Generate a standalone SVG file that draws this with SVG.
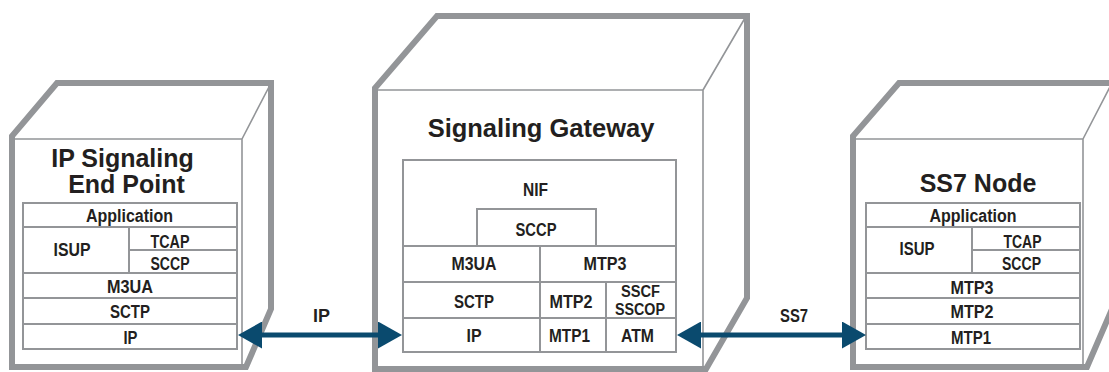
<svg xmlns="http://www.w3.org/2000/svg" width="1109" height="372" viewBox="0 0 1109 372">
<style>
.bg{fill:#ffffff}
.sil{fill:#ffffff;stroke:#939598;stroke-width:6;stroke-linejoin:miter}
.thin{fill:none;stroke:#939598;stroke-width:1.6}
.cell{fill:#ffffff;stroke:#939598;stroke-width:2}
.title{font-family:"Liberation Sans",Arial,sans-serif;font-weight:bold;font-size:25px;fill:#231f20;text-anchor:middle}
.lbl{font-family:"Liberation Sans",Arial,sans-serif;font-weight:bold;font-size:18px;fill:#231f20;text-anchor:middle}
.sm{font-size:16px}
.conn{stroke:#0a4a6e;stroke-width:5;fill:none}
</style>
<defs>
<marker id="ah" viewBox="0 0 24 27" refX="0" refY="13.5" markerWidth="24" markerHeight="27" markerUnits="userSpaceOnUse" orient="auto-start-reverse">
<path d="M0,0 L24,13.5 L0,27 Z" fill="#0a4a6e"/>
</marker>
</defs>
<rect class="bg" x="0" y="0" width="1109" height="372"/>

<g id="ip-endpoint">
<path class="sil" d="M12,367 L12,136 L57,83 L271,83 L271,309 L246,367 Z"/>
<path class="thin" d="M12,139 L242,139 L242,366 M242,139 L270,85"/>
<text class="title" x="122.5" y="167">IP Signaling</text>
<text class="title" x="126.5" y="193">End Point</text>
<rect class="cell" x="23" y="203" width="214" height="24"/>
<rect class="cell" x="23" y="227" width="106" height="46"/>
<rect class="cell" x="129" y="227" width="108" height="23"/>
<rect class="cell" x="129" y="250" width="108" height="23"/>
<rect class="cell" x="23" y="273" width="214" height="25"/>
<rect class="cell" x="23" y="298" width="214" height="26"/>
<rect class="cell" x="23" y="324" width="214" height="25"/>
<text class="lbl" x="129.5" y="222" textLength="87" lengthAdjust="spacingAndGlyphs">Application</text>
<text class="lbl" x="72" y="255.5" textLength="37" lengthAdjust="spacingAndGlyphs">ISUP</text>
<text class="lbl" x="170" y="247.5" textLength="39" lengthAdjust="spacingAndGlyphs">TCAP</text>
<text class="lbl" x="170" y="269.5" textLength="39" lengthAdjust="spacingAndGlyphs">SCCP</text>
<text class="lbl" x="130" y="293" textLength="46" lengthAdjust="spacingAndGlyphs">M3UA</text>
<text class="lbl" x="130" y="318" textLength="40" lengthAdjust="spacingAndGlyphs">SCTP</text>
<text class="lbl" x="130.5" y="343.5" textLength="14" lengthAdjust="spacingAndGlyphs">IP</text>
</g>

<g id="signaling-gateway">
<path class="sil" d="M375,369 L375,88 L437,16 L747,16 L747,298 L706,369 Z"/>
<path class="thin" d="M375,90 L703,90 L703,368 M703,90 L745,18"/>
<text class="title" x="541" y="137" style="font-size:25.5px">Signaling Gateway</text>
<rect class="cell" x="403" y="160" width="273" height="86"/>
<rect class="cell" x="477" y="209" width="119" height="37"/>
<rect class="cell" x="403" y="246" width="137" height="36"/>
<rect class="cell" x="540" y="246" width="136" height="36"/>
<rect class="cell" x="403" y="282" width="137" height="36"/>
<rect class="cell" x="540" y="282" width="66" height="36"/>
<rect class="cell" x="606" y="282" width="70" height="36"/>
<rect class="cell" x="403" y="318" width="137" height="34"/>
<rect class="cell" x="540" y="318" width="66" height="34"/>
<rect class="cell" x="606" y="318" width="70" height="34"/>
<text class="lbl" x="535.5" y="195.5" textLength="25" lengthAdjust="spacingAndGlyphs">NIF</text>
<text class="lbl" x="536" y="235.5" textLength="41" lengthAdjust="spacingAndGlyphs">SCCP</text>
<text class="lbl" x="474" y="270" textLength="45" lengthAdjust="spacingAndGlyphs">M3UA</text>
<text class="lbl" x="605" y="270" textLength="43" lengthAdjust="spacingAndGlyphs">MTP3</text>
<text class="lbl" x="474" y="308" textLength="40" lengthAdjust="spacingAndGlyphs">SCTP</text>
<text class="lbl" x="571" y="308" textLength="43" lengthAdjust="spacingAndGlyphs">MTP2</text>
<text class="lbl sm" x="640.5" y="296.5" textLength="39" lengthAdjust="spacingAndGlyphs">SSCF</text>
<text class="lbl sm" x="640" y="314.5" textLength="50" lengthAdjust="spacingAndGlyphs">SSCOP</text>
<text class="lbl" x="474" y="342" textLength="15" lengthAdjust="spacingAndGlyphs">IP</text>
<text class="lbl" x="569.5" y="342" textLength="41" lengthAdjust="spacingAndGlyphs">MTP1</text>
<text class="lbl" x="637.5" y="342" textLength="33" lengthAdjust="spacingAndGlyphs">ATM</text>
</g>

<g id="ss7-node">
<path class="sil" d="M853,367 L853,136 L899,83 L1112,83 L1112,309 L1087,367 Z"/>
<path class="thin" d="M853,139 L1083,139 L1083,366 M1083,139 L1111,85"/>
<text class="title" x="978" y="192">SS7 Node</text>
<rect class="cell" x="866" y="203" width="214" height="24"/>
<rect class="cell" x="866" y="227" width="106" height="46"/>
<rect class="cell" x="972" y="227" width="108" height="23"/>
<rect class="cell" x="972" y="250" width="108" height="23"/>
<rect class="cell" x="866" y="273" width="214" height="25"/>
<rect class="cell" x="866" y="298" width="214" height="26"/>
<rect class="cell" x="866" y="324" width="214" height="25"/>
<text class="lbl" x="973" y="222" textLength="87" lengthAdjust="spacingAndGlyphs">Application</text>
<text class="lbl" x="917" y="254.5" textLength="35" lengthAdjust="spacingAndGlyphs">ISUP</text>
<text class="lbl" x="1022.5" y="247.5" textLength="38" lengthAdjust="spacingAndGlyphs">TCAP</text>
<text class="lbl" x="1021.5" y="269.5" textLength="39" lengthAdjust="spacingAndGlyphs">SCCP</text>
<text class="lbl" x="972" y="294" textLength="43" lengthAdjust="spacingAndGlyphs">MTP3</text>
<text class="lbl" x="972" y="318" textLength="43" lengthAdjust="spacingAndGlyphs">MTP2</text>
<text class="lbl" x="971" y="344" textLength="40" lengthAdjust="spacingAndGlyphs">MTP1</text>
</g>

<g id="connectors">
<line class="conn" x1="262" y1="335" x2="378" y2="335" marker-start="url(#ah)" marker-end="url(#ah)"/>
<text class="lbl" x="321.5" y="321.5" textLength="17" lengthAdjust="spacingAndGlyphs">IP</text>
<line class="conn" x1="701" y1="335" x2="842" y2="335" marker-start="url(#ah)" marker-end="url(#ah)"/>
<text class="lbl" x="794" y="321.5" textLength="28" lengthAdjust="spacingAndGlyphs">SS7</text>
</g>
</svg>
